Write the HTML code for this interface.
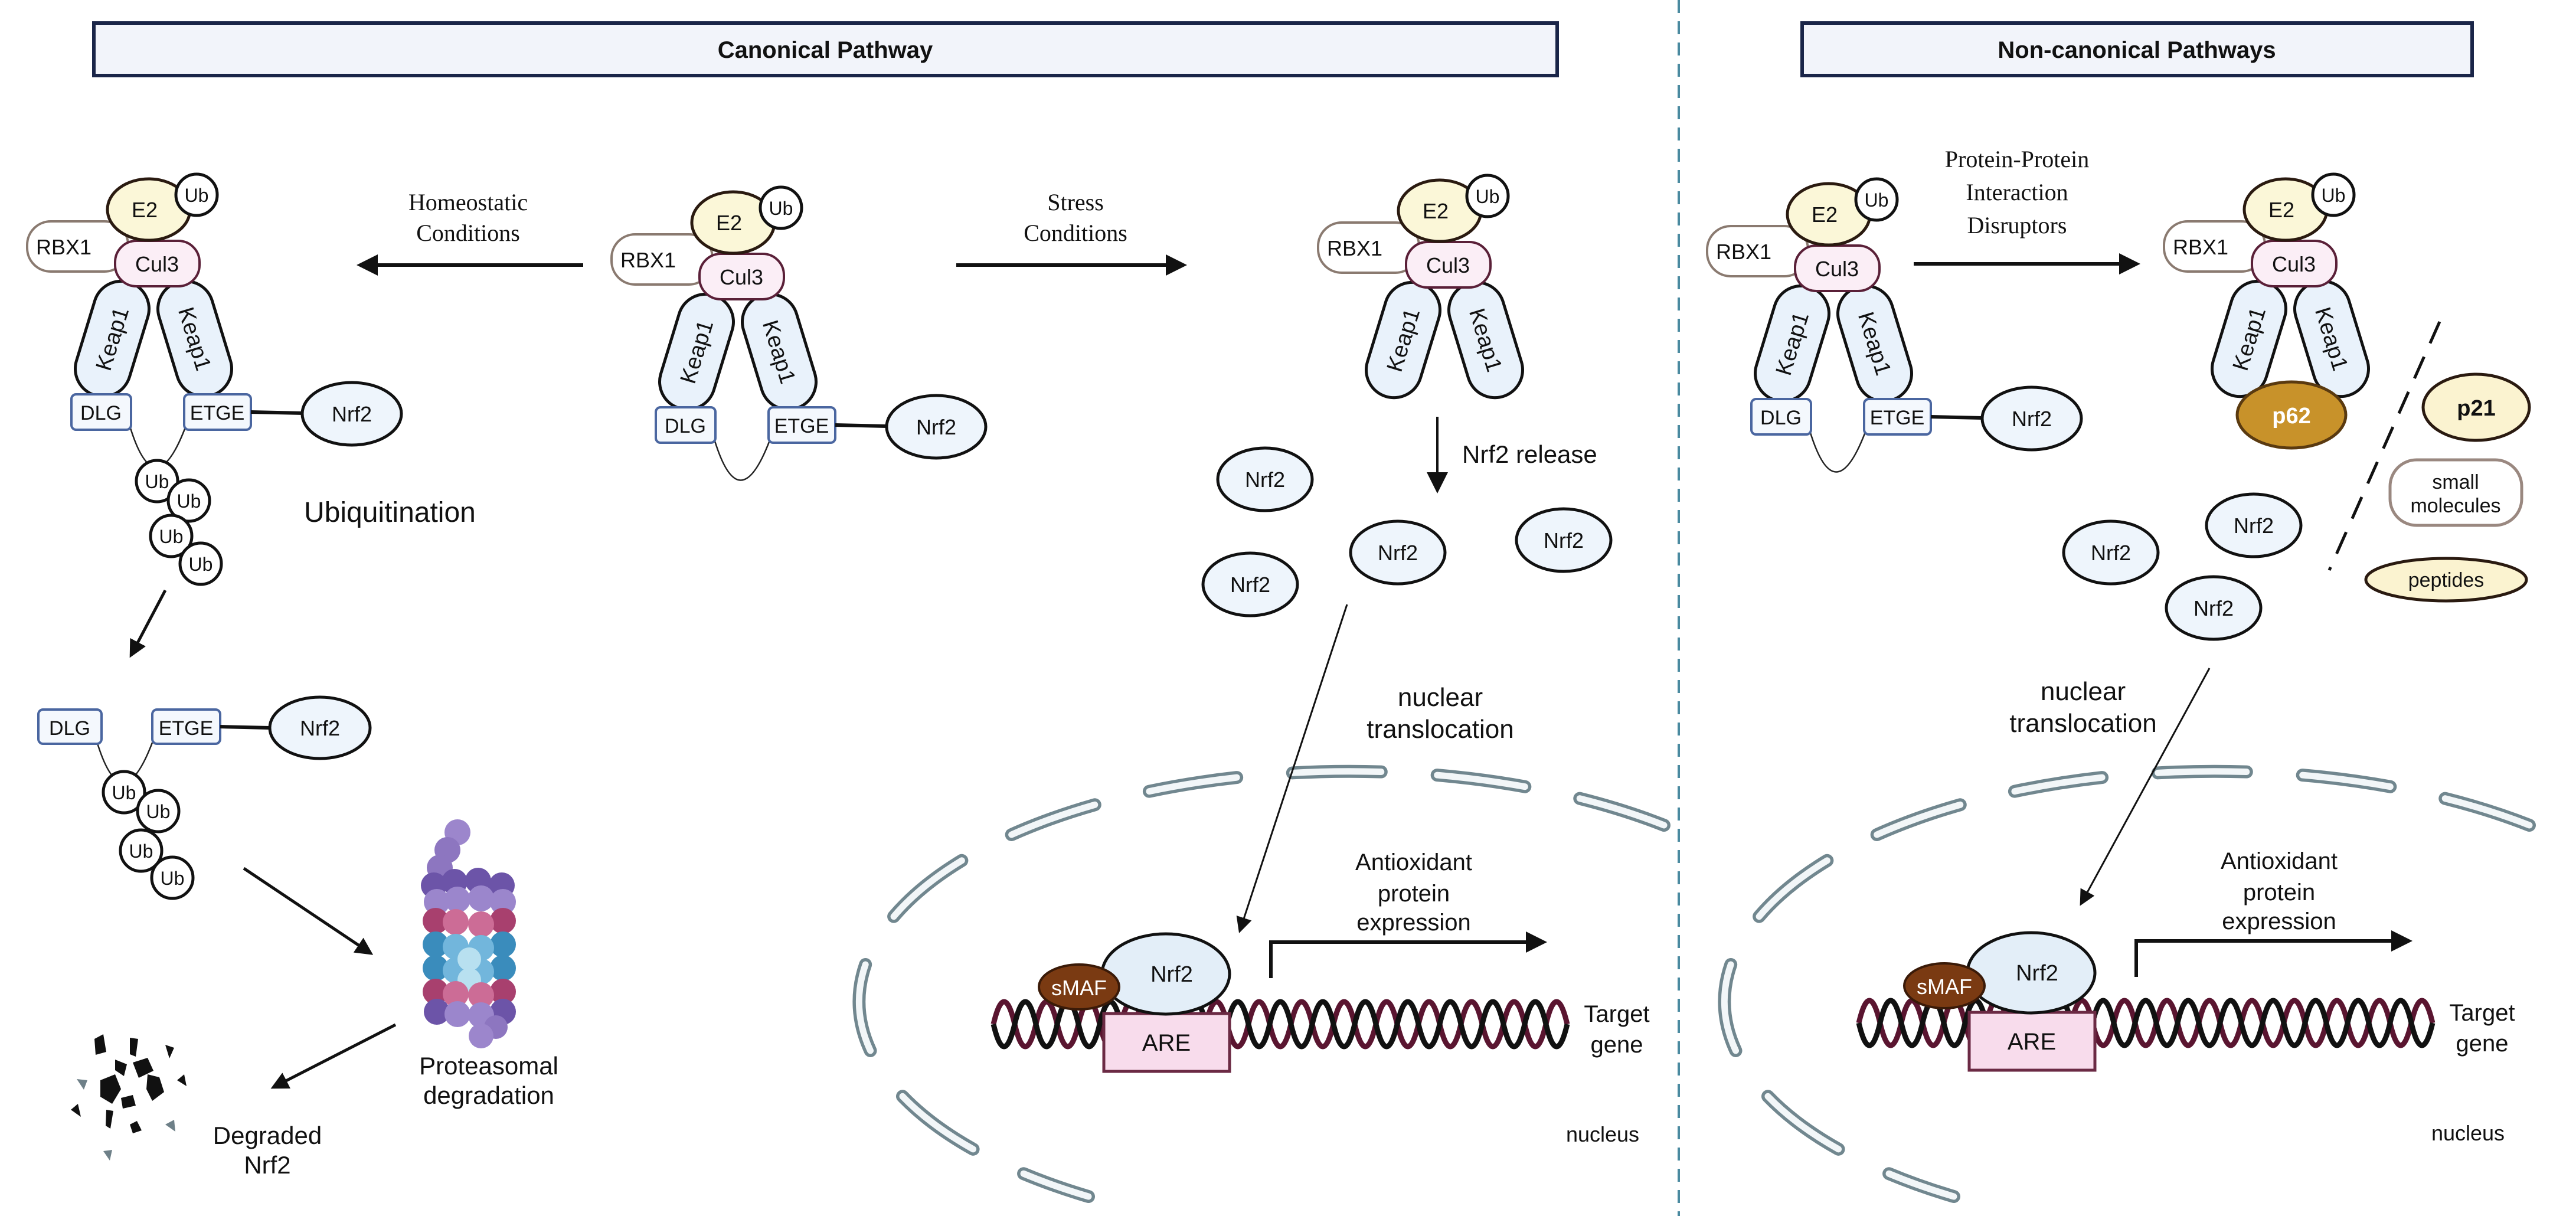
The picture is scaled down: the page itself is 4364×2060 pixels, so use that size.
<!DOCTYPE html>
<html><head><meta charset="utf-8"><style>
html,body{margin:0;padding:0;background:#fff;}
svg{display:block;}
text{font-family:"Liberation Sans",sans-serif;fill:#111;}
.serif{font-family:"Liberation Serif",serif;}
</style></head><body>
<svg width="4364" height="2060" viewBox="0 0 4364 2060" xmlns="http://www.w3.org/2000/svg">
<defs>
<marker id="ah" markerWidth="6" markerHeight="6" refX="5" refY="3" orient="auto" markerUnits="strokeWidth"><path d="M0,0 L6,3 L0,6 z" fill="#111"/></marker>
<marker id="ah2" markerWidth="9" markerHeight="9" refX="8" refY="4.5" orient="auto" markerUnits="strokeWidth"><path d="M0,0 L9,4.5 L0,9 z" fill="#111"/></marker>
<g id="top">
 <rect x="46" y="375" width="171" height="85" rx="40" fill="#fff" stroke="#8a7a70" stroke-width="4"/>
 <text x="108" y="431" font-size="36" text-anchor="middle">RBX1</text>
 <g transform="translate(190,574) rotate(-73)"><rect x="-100" y="-47" width="200" height="94" rx="47" fill="#e9f2fb" stroke="#111" stroke-width="5"/><text x="0" y="13" font-size="38" text-anchor="middle">Keap1</text></g>
 <g transform="translate(330,574) rotate(73)"><rect x="-100" y="-47" width="200" height="94" rx="47" fill="#e9f2fb" stroke="#111" stroke-width="5"/><text x="0" y="13" font-size="38" text-anchor="middle">Keap1</text></g>
 <rect x="195" y="408" width="143" height="77" rx="36" fill="#fbeef6" stroke="#5a2038" stroke-width="4"/>
 <text x="266" y="460" font-size="36" text-anchor="middle">Cul3</text>
 <ellipse cx="252" cy="355" rx="70" ry="52" fill="#fbf7d8" stroke="#2a1a10" stroke-width="5"/>
 <text x="245" y="368" font-size="36" text-anchor="middle">E2</text>
 <circle cx="333" cy="330" r="35" fill="#fff" stroke="#111" stroke-width="5"/>
 <text x="333" y="342" font-size="32" text-anchor="middle">Ub</text>
</g>
<g id="tail">
 <path d="M220 722 Q262 860 314 724" fill="none" stroke="#222" stroke-width="2.5"/>
 <rect x="121" y="668" width="101" height="60" rx="8" fill="#f4f8fd" stroke="#4a66a0" stroke-width="4"/>
 <text x="171" y="711" font-size="34" text-anchor="middle">DLG</text>
 <rect x="312" y="668" width="113" height="60" rx="8" fill="#f4f8fd" stroke="#4a66a0" stroke-width="4"/>
 <text x="368" y="711" font-size="34" text-anchor="middle">ETGE</text>
 <line x1="425" y1="698" x2="512" y2="700" stroke="#111" stroke-width="6"/>
 <ellipse cx="596" cy="701" rx="84" ry="53" fill="#eef5fc" stroke="#111" stroke-width="5"/>
 <text x="596" y="714" font-size="36" text-anchor="middle">Nrf2</text>
</g>
<g id="nrf">
 <ellipse cx="0" cy="0" rx="80" ry="53" fill="#eef5fc" stroke="#111" stroke-width="5"/>
 <text x="0" y="13" font-size="36" text-anchor="middle">Nrf2</text>
</g>
<g id="ub"><circle cx="0" cy="0" r="35" fill="#fff" stroke="#111" stroke-width="5"/><text x="0" y="12" font-size="32" text-anchor="middle">Ub</text></g>
<g id="nucarc">
 <path d="M2819 1398 A830 390 0 1 0 1844 2027" fill="none" stroke="#71878f" stroke-width="22" stroke-dasharray="150 95" stroke-linecap="round"/>
 <path d="M2819 1398 A830 390 0 1 0 1844 2027" fill="none" stroke="#f2f6f8" stroke-width="11" stroke-dasharray="150 95" stroke-linecap="round"/>
</g>
<g id="nucbits">
 <path d="M100 1735 q18 -76 36 0 t36 0 t36 0 t36 0 t36 0 t36 0 t36 0 t36 0 t36 0 t36 0 t36 0 t36 0 t36 0 t36 0 t36 0 t36 0 t36 0 t36 0 t36 0 t36 0 t36 0 t36 0 t36 0 t36 0 t36 0 t36 0 t36 0" transform="translate(1583,0)" fill="none" stroke="#5a1530" stroke-width="9"/>
 <path d="M100 1735 q18 76 36 0 t36 0 t36 0 t36 0 t36 0 t36 0 t36 0 t36 0 t36 0 t36 0 t36 0 t36 0 t36 0 t36 0 t36 0 t36 0 t36 0 t36 0 t36 0 t36 0 t36 0 t36 0 t36 0 t36 0 t36 0 t36 0 t36 0" transform="translate(1583,0)" fill="none" stroke="#111" stroke-width="9"/>
 <rect x="1870" y="1717" width="213" height="98" fill="#f8dcec" stroke="#6b2a44" stroke-width="5"/>
 <text x="1976" y="1780" font-size="40" text-anchor="middle">ARE</text>
 <ellipse cx="1975" cy="1650" rx="108" ry="68" fill="#e3eef8" stroke="#111" stroke-width="5"/>
 <text x="1985" y="1663" font-size="38" text-anchor="middle">Nrf2</text>
 <ellipse cx="1828" cy="1672" rx="68" ry="38" fill="#7a3a12" stroke="#3a1a08" stroke-width="4"/>
 <text x="1828" y="1686" font-size="36" text-anchor="middle" style="fill:#fff">sMAF</text>
 <polyline points="2153,1657 2153,1596 2615,1596" fill="none" stroke="#111" stroke-width="6" marker-end="url(#ah)"/>
 <text x="2395" y="1474" font-size="40" text-anchor="middle">Antioxidant</text>
 <text x="2395" y="1527" font-size="40" text-anchor="middle">protein</text>
 <text x="2395" y="1576" font-size="40" text-anchor="middle">expression</text>
 <text x="2739" y="1731" font-size="40" text-anchor="middle">Target</text>
 <text x="2739" y="1783" font-size="40" text-anchor="middle">gene</text>
 <text x="2715" y="1934" font-size="36" text-anchor="middle">nucleus</text>
</g>
</defs>

<rect x="159" y="39" width="2479" height="89" fill="#f2f4fa" stroke="#1a2548" stroke-width="6"/>
<text x="1398" y="98" font-size="40" font-weight="bold" text-anchor="middle">Canonical Pathway</text>
<rect x="3053" y="39" width="1135" height="89" fill="#f2f4fa" stroke="#1a2548" stroke-width="6"/>
<text x="3620" y="98" font-size="40" font-weight="bold" text-anchor="middle">Non-canonical Pathways</text>
<line x1="2844" y1="0" x2="2844" y2="2060" stroke="#4a8aa0" stroke-width="4" stroke-dasharray="22 14"/>

<use href="#nucarc"/>
<use href="#nucarc" transform="translate(1466,0)"/>

<use href="#top"/><use href="#tail"/>
<use href="#top" transform="translate(990,22)"/><use href="#tail" transform="translate(990,22)"/>
<use href="#top" transform="translate(2187,2)"/>
<use href="#top" transform="translate(2846,8)"/><use href="#tail" transform="translate(2846,8)"/>
<use href="#top" transform="translate(3620,0)"/>

<use href="#ub" x="266" y="815"/><use href="#ub" x="320" y="848"/><use href="#ub" x="290" y="908"/><use href="#ub" x="340" y="955"/>
<text x="515" y="884" font-size="48">Ubiquitination</text>

<text class="serif" x="793" y="356" font-size="40" text-anchor="middle">Homeostatic</text>
<text class="serif" x="793" y="408" font-size="40" text-anchor="middle">Conditions</text>
<line x1="988" y1="449" x2="610" y2="449" stroke="#111" stroke-width="6" marker-end="url(#ah)"/>
<text class="serif" x="1822" y="356" font-size="40" text-anchor="middle">Stress</text>
<text class="serif" x="1822" y="408" font-size="40" text-anchor="middle">Conditions</text>
<line x1="1620" y1="449" x2="2005" y2="449" stroke="#111" stroke-width="6" marker-end="url(#ah)"/>
<text class="serif" x="3417" y="283" font-size="40" text-anchor="middle">Protein-Protein</text>
<text class="serif" x="3417" y="339" font-size="40" text-anchor="middle">Interaction</text>
<text class="serif" x="3417" y="395" font-size="40" text-anchor="middle">Disruptors</text>
<line x1="3242" y1="447" x2="3620" y2="447" stroke="#111" stroke-width="6" marker-end="url(#ah)"/>

<line x1="2435" y1="706" x2="2435" y2="832" stroke="#111" stroke-width="4" marker-end="url(#ah2)"/>
<text x="2477" y="784" font-size="42">Nrf2 release</text>
<use href="#nrf" x="2143" y="812"/><use href="#nrf" x="2368" y="936"/><use href="#nrf" x="2649" y="915"/><use href="#nrf" x="2118" y="990"/>
<line x1="2282" y1="1024" x2="2100" y2="1578" stroke="#111" stroke-width="3" marker-end="url(#ah2)"/>
<text x="2440" y="1196" font-size="44" text-anchor="middle">nuclear</text>
<text x="2440" y="1250" font-size="44" text-anchor="middle">translocation</text>

<use href="#nucbits"/>
<use href="#nucbits" transform="translate(1466,-2)"/>

<ellipse cx="3882" cy="703" rx="92" ry="56" fill="#c8922a" stroke="#5a3a10" stroke-width="5"/>
<text x="3882" y="717" font-size="38" font-weight="bold" text-anchor="middle" style="fill:#fff">p62</text>
<line x1="4133" y1="545" x2="3946" y2="966" stroke="#111" stroke-width="5" stroke-dasharray="40 25"/>
<ellipse cx="4195" cy="690" rx="90" ry="56" fill="#fbf3d0" stroke="#2a1a10" stroke-width="5"/>
<text x="4195" y="704" font-size="38" font-weight="bold" text-anchor="middle">p21</text>
<rect x="4049" y="779" width="223" height="111" rx="45" fill="#fff" stroke="#9a8880" stroke-width="5"/>
<text x="4160" y="828" font-size="34" text-anchor="middle">small</text>
<text x="4160" y="868" font-size="34" text-anchor="middle">molecules</text>
<ellipse cx="4144" cy="982" rx="136" ry="36" fill="#fbf3d0" stroke="#2a1a10" stroke-width="5"/>
<text x="4144" y="994" font-size="34" text-anchor="middle">peptides</text>
<use href="#nrf" x="3818" y="890"/><use href="#nrf" x="3576" y="936"/><use href="#nrf" x="3750" y="1030"/>
<line x1="3743" y1="1132" x2="3525" y2="1532" stroke="#111" stroke-width="3" marker-end="url(#ah2)"/>
<text x="3529" y="1186" font-size="44" text-anchor="middle">nuclear</text>
<text x="3529" y="1240" font-size="44" text-anchor="middle">translocation</text>

<line x1="280" y1="1000" x2="222" y2="1110" stroke="#111" stroke-width="5" marker-end="url(#ah)"/>
<g transform="translate(-56,534)">
 <path d="M220 722 Q262 860 314 724" fill="none" stroke="#222" stroke-width="2.5"/>
 <rect x="121" y="668" width="107" height="58" rx="8" fill="#f4f8fd" stroke="#4a66a0" stroke-width="4"/>
 <text x="174" y="711" font-size="34" text-anchor="middle">DLG</text>
 <rect x="314" y="668" width="115" height="58" rx="8" fill="#f4f8fd" stroke="#4a66a0" stroke-width="4"/>
 <text x="371" y="711" font-size="34" text-anchor="middle">ETGE</text>
 <line x1="429" y1="697" x2="513" y2="699" stroke="#111" stroke-width="6"/>
 <ellipse cx="598" cy="699" rx="85" ry="52" fill="#eef5fc" stroke="#111" stroke-width="5"/>
 <text x="598" y="712" font-size="36" text-anchor="middle">Nrf2</text>
</g>
<use href="#ub" x="210" y="1342"/><use href="#ub" x="268" y="1374"/><use href="#ub" x="239" y="1441"/><use href="#ub" x="292" y="1487"/>
<line x1="413" y1="1471" x2="628" y2="1615" stroke="#111" stroke-width="5" marker-end="url(#ah)"/>
<line x1="670" y1="1736" x2="463" y2="1842" stroke="#111" stroke-width="5" marker-end="url(#ah)"/>
<g stroke="none">
 <circle cx="775" cy="1410" r="22" fill="#9c86cc"/><circle cx="758" cy="1440" r="22" fill="#8d76c0"/><circle cx="745" cy="1470" r="22" fill="#8d76c0"/>
 <g fill="#6c54a8"><circle cx="735" cy="1500" r="22"/><circle cx="770" cy="1494" r="22"/><circle cx="810" cy="1492" r="22"/><circle cx="850" cy="1500" r="22"/></g>
 <g fill="#9b86cc"><circle cx="740" cy="1528" r="22"/><circle cx="775" cy="1524" r="22"/><circle cx="815" cy="1522" r="22"/><circle cx="852" cy="1528" r="22"/></g>
 <g fill="#a8406e"><circle cx="738" cy="1560" r="22"/><circle cx="852" cy="1560" r="22"/></g>
 <g fill="#cc6c96"><circle cx="772" cy="1562" r="22"/><circle cx="815" cy="1566" r="22"/></g>
 <g fill="#3a8cbc"><circle cx="738" cy="1600" r="22"/><circle cx="852" cy="1600" r="22"/><circle cx="738" cy="1640" r="22"/><circle cx="852" cy="1640" r="22"/></g>
 <g fill="#72b6dc"><circle cx="772" cy="1604" r="22"/><circle cx="815" cy="1606" r="22"/><circle cx="772" cy="1644" r="22"/><circle cx="815" cy="1646" r="22"/></g>
 <circle cx="795" cy="1625" r="20" fill="#b8e0f0"/><circle cx="795" cy="1660" r="20" fill="#b8e0f0"/>
 <g fill="#a8406e"><circle cx="738" cy="1680" r="22"/><circle cx="852" cy="1680" r="22"/></g>
 <g fill="#cc6c96"><circle cx="772" cy="1684" r="22"/><circle cx="815" cy="1686" r="22"/></g>
 <g fill="#6c54a8"><circle cx="740" cy="1714" r="22"/><circle cx="852" cy="1714" r="22"/></g>
 <g fill="#9b86cc"><circle cx="775" cy="1718" r="22"/><circle cx="815" cy="1720" r="22"/></g>
 <circle cx="840" cy="1740" r="20" fill="#8d76c0"/><circle cx="815" cy="1755" r="21" fill="#9c86cc"/>
</g>
<text x="828" y="1820" font-size="42" text-anchor="middle">Proteasomal</text>
<text x="828" y="1870" font-size="42" text-anchor="middle">degradation</text>
<text x="453" y="1938" font-size="42" text-anchor="middle">Degraded</text>
<text x="453" y="1988" font-size="42" text-anchor="middle">Nrf2</text>
<g fill="#111">
 <path d="M160 1760 l15 -8 l5 30 l-18 5 z"/><path d="M220 1758 l14 2 l-4 30 l-10 -4 z"/><path d="M280 1770 l15 5 l-8 18 z"/>
 <path d="M195 1795 l20 8 l-5 20 l-15 -10 z"/><path d="M225 1800 l25 -8 l10 22 l-25 12 z"/>
 <path d="M170 1830 l25 -10 l10 25 l-15 25 l-20 -12 z"/><path d="M250 1820 l20 5 l8 25 l-20 15 l-10 -20 z"/>
 <path d="M205 1860 l20 -5 l5 18 l-22 5 z"/><path d="M120 1880 l12 -10 l5 22 z"/><path d="M180 1880 l12 2 l-5 30 l-8 -5 z"/>
 <path d="M220 1905 l12 -6 l8 16 l-15 5 z"/><path d="M300 1830 l12 -10 l4 20 z"/>
</g>
<g fill="#6e8088"><path d="M130 1828 l18 2 l-6 16 z"/><path d="M280 1905 l15 -8 l2 20 z"/><path d="M175 1950 l15 -2 l-4 18 z"/></g>
</svg>
</body></html>
